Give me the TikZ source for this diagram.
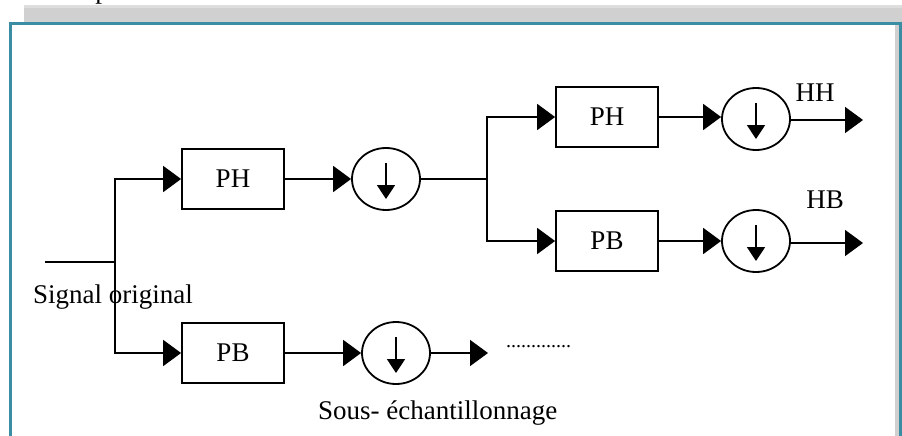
\documentclass[tikz,border=0pt]{standalone}
\usepackage{fontspec}
\setmainfont{Liberation Serif}
\usetikzlibrary{arrows.meta,shapes.geometric}
\definecolor{frameteal}{HTML}{3A8DA3}
\definecolor{bargray}{HTML}{D0D0D0}
\definecolor{barlight}{HTML}{DEDEDE}
\tikzset{
  txt/.style={font=\fontsize{27}{30}\selectfont, inner sep=0pt},
  filt/.style={draw, line width=1.8pt, minimum width=102pt, minimum height=60pt, inner sep=0pt, font=\fontsize{27}{30}\selectfont},
  down/.style={draw, ellipse, line width=1.8pt, minimum width=68pt, minimum height=62pt, inner sep=0pt},
  wire/.style={line width=1.8pt},
  arr/.style={line width=1.8pt, -{Triangle[length=18pt,width=26pt]}},
  darr/.style={line width=1.8pt, -{Triangle[length=14pt,width=18pt]}},
}
\begin{document}
\begin{tikzpicture}[x=1pt,y=-1pt]
\useasboundingbox (0,0) rectangle (902,436);
% page decoration
\fill[bargray] (24,5) rectangle (902,23);
\fill[barlight] (24,5) rectangle (902,8);
\node[txt, anchor=base] (ptop) at (102,-1) {p};
\fill[bargray] (895,24) rectangle (899,436);
\draw[frameteal, line width=3pt] (10.5,436) -- (10.5,23.5) -- (900.5,23.5) -- (900.5,436);
% blocks
\node[filt] (ph1) at (233,179) {PH};
\node[down] (d1) at (386,179) {};
\node[filt] (ph2) at (607,117) {PH};
\node[down] (d2) at (756,119) {};
\node[filt] (pb2) at (607,241) {PB};
\node[down] (d3) at (756,241) {};
\node[filt] (pb1) at (233,353) {PB};
\node[down] (d4) at (396,353) {};
% down-sampling arrows inside circles
\foreach \c in {d1,d2,d3,d4}
  \draw[darr] ([yshift=16pt]\c.center) -- ([yshift=-20pt]\c.center);
% junctions
\coordinate (in) at (45,262);
\coordinate (j1) at (115,262);
\coordinate (j2) at (487,179);
\coordinate (o2) at (863,120);
\coordinate (o3) at (863,243);
\coordinate (o4) at (488,353);
% connectors
\draw[wire] (in) -- (j1);
\draw[arr] (j1) |- (ph1.west);
\draw[arr] (j1) |- (pb1.west);
\draw[arr] (ph1.east) -- (d1.west);
\draw[wire] (d1.east) -- (j2);
\draw[arr] (j2) |- (ph2.west);
\draw[arr] (j2) |- (pb2.west);
\draw[arr] (ph2.east) -- (ph2.east -| d2.west);
\draw[arr] (pb2.east) -- (d3.west);
\draw[arr] (d2.east |- o2) -- (o2);
\draw[arr] (d3.east |- o3) -- (o3);
\draw[arr] (pb1.east) -- (d4.west);
\draw[arr] (d4.east) -- (o4);
% labels
\node[txt] (hh) at (815,93) {HH};
\node[txt] (hb) at (825,200) {HB};
\node[txt, anchor=west] (sig) at (33,297) {Signal original};
\node[txt, anchor=west] (sous) at (318,413) {Sous- échantillonnage};
\node[anchor=west, inner sep=0pt, font=\fontsize{20}{22}\selectfont] (dots) at (506,347) {.............};
\end{tikzpicture}
\end{document}
